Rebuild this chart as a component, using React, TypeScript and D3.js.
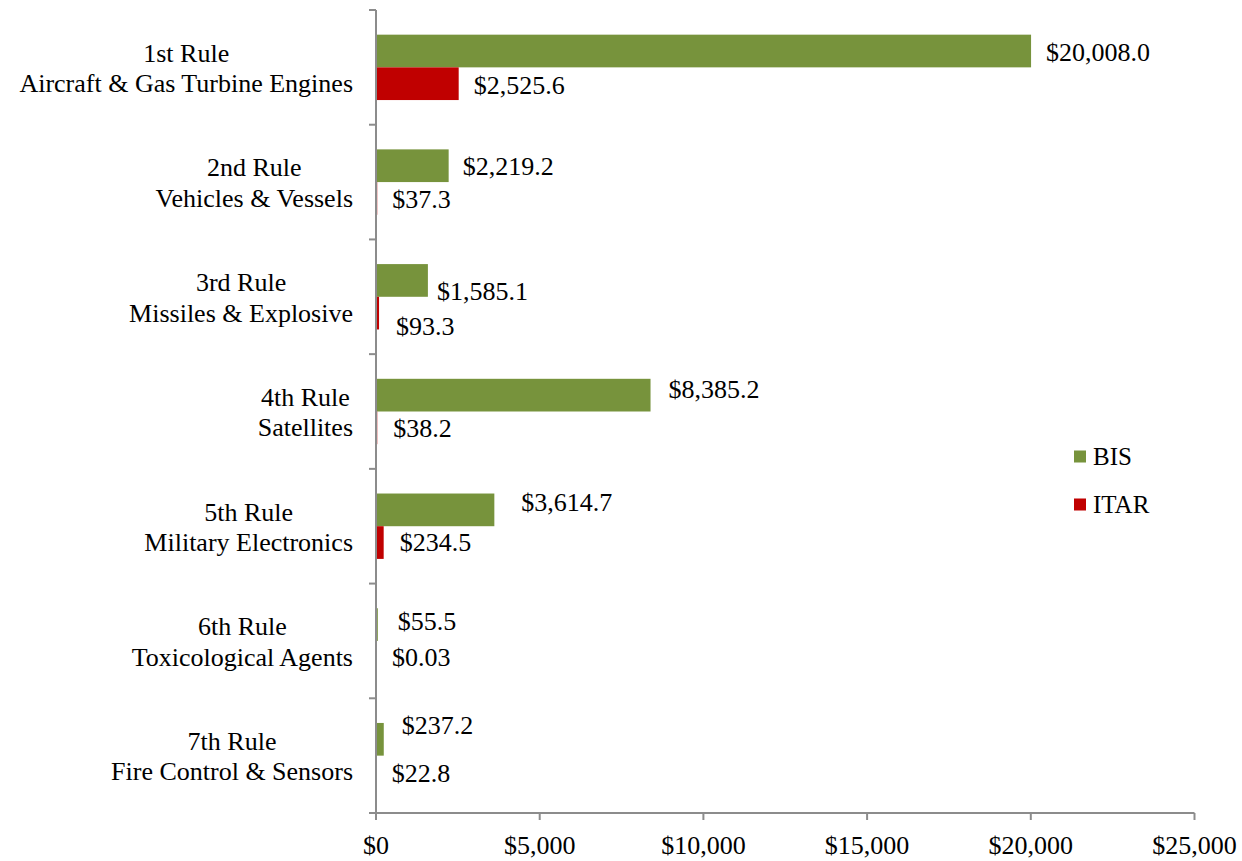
import React, { useEffect, useRef } from "react";
import * as d3 from "d3";

const ruleNames = ["1st Rule", "2nd Rule", "3rd Rule", "4th Rule", "5th Rule", "6th Rule", "7th Rule"];
const ruleSubjects = [
  "Aircraft & Gas Turbine Engines",
  "Vehicles & Vessels",
  "Missiles & Explosive",
  "Satellites",
  "Military Electronics",
  "Toxicological Agents",
  "Fire Control & Sensors",
];
const seriesNames = ["BIS", "ITAR"];
const bisValues = [20008.0, 2219.2, 1585.1, 8385.2, 3614.7, 55.5, 237.2];
const itarValues = [2525.6, 37.3, 93.3, 38.2, 234.5, 0.03, 22.8];
const xTicks = [0, 5000, 10000, 15000, 20000, 25000];

// label nudges (px) mimicking the hand-placed labels of the original
const bisLabelNudge = [[15, 1], [14, 0], [9, 11], [18, -6], [27, -8], [20, -3], [18, -14]];
const itarLabelNudge = [[15, 1], [15, 1], [17, 13], [16, 0], [16, 0], [16, 0], [15, 1]];

const W = 1242;
const H = 861;
const COLORS = ["#77933C", "#C00000"];
const AXIS = "#8C8C8C";
const FONT = "Liberation Serif, Tinos, Times New Roman, DejaVu Serif, serif";

export default function App() {
  const ref = useRef<SVGSVGElement>(null);

  useEffect(() => {
    const svg = d3.select(ref.current);
    svg.selectAll("*").remove();

    const x0 = 376;
    const top = 10;
    const bottom = 813;
    const x = d3.scaleLinear().domain([0, 25000]).range([x0, 1194.5]);
    const y = d3.scaleBand<number>().domain(d3.range(ruleNames.length)).range([top, bottom]).padding(0);
    const inner = d3.scaleBand<number>().domain([0, 1]).range([0.215, 0.785]).padding(0);

    const fmt = (v: number) => "$" + (v < 1 ? d3.format(".2f")(v) : d3.format(",.1f")(v));
    const series = [bisValues, itarValues];
    const nudges = [bisLabelNudge, itarLabelNudge];

    const txt = (sel: any, size = 26) =>
      sel.style("font-family", FONT).style("font-size", size + "px").attr("fill", "#000");

    // bars
    series.forEach((vals, s) => {
      svg
        .append("g")
        .selectAll("rect")
        .data(vals)
        .join("rect")
        .attr("x", x(0))
        .attr("y", (_, i) => y(i)! + inner(s)! * y.bandwidth())
        .attr("width", (d) => Math.max(0, x(d) - x(0)))
        .attr("height", inner.bandwidth() * y.bandwidth())
        .attr("fill", COLORS[s]);
    });

    // value labels
    series.forEach((vals, s) => {
      txt(
        svg
          .append("g")
          .selectAll("text")
          .data(vals)
          .join("text")
          .attr("x", (d, i) => x(d) + nudges[s][i][0])
          .attr("y", (_, i) => y(i)! + (inner(s)! + inner.bandwidth() / 2) * y.bandwidth() + nudges[s][i][1])
          .attr("dy", "0.34em")
          .text((d) => fmt(d))
      );
    });

    // y axis line + ticks
    const ax = svg.append("g").attr("stroke", AXIS).attr("stroke-width", 2);
    ax.append("line").attr("x1", x0).attr("x2", x0).attr("y1", top).attr("y2", bottom);
    d3.range(ruleNames.length + 1).forEach((i) => {
      const yy = top + i * y.step();
      ax.append("line").attr("x1", x0 - 7).attr("x2", x0).attr("y1", yy).attr("y2", yy);
    });
    // x axis line + ticks
    ax.append("line").attr("x1", x0 - 7).attr("x2", x(25000)).attr("y1", bottom).attr("y2", bottom);
    xTicks.forEach((t) => {
      ax.append("line").attr("x1", x(t)).attr("x2", x(t)).attr("y1", bottom).attr("y2", bottom + 7);
    });

    txt(
      svg
        .append("g")
        .selectAll("text")
        .data(xTicks)
        .join("text")
        .attr("x", (d) => x(d))
        .attr("y", bottom + 32)
        .attr("dy", "0.34em")
        .attr("text-anchor", "middle")
        .text((d) => "$" + d3.format(",")(d))
    );

    // category labels (two centred lines, block right-aligned)
    ruleNames.forEach((name, i) => {
      const cy = y(i)! + y.bandwidth() / 2;
      const g = svg.append("g");
      const t1 = txt(
        g.append("text").attr("x", 0).attr("y", cy - 14.5).attr("dy", "0.34em").attr("text-anchor", "middle").text(name)
      );
      const t2 = txt(
        g
          .append("text")
          .attr("x", 0)
          .attr("y", cy + 16)
          .attr("dy", "0.34em")
          .attr("text-anchor", "middle")
          .text(ruleSubjects[i])
      );
      const w = Math.max(
        (t1.node() as SVGTextElement).getComputedTextLength(),
        (t2.node() as SVGTextElement).getComputedTextLength()
      );
      g.attr("transform", `translate(${353 - w / 2},0)`);
    });

    // legend
    const lg = svg.append("g");
    seriesNames.forEach((n, s) => {
      const ly = 456.5 + s * 48;
      lg.append("rect").attr("x", 1074).attr("y", ly - 6).attr("width", 12).attr("height", 12).attr("fill", COLORS[s]);
      txt(lg.append("text").attr("x", 1093).attr("y", ly).attr("dy", "0.34em").text(n), 25);
    });
  }, []);

  return (
    <svg
      ref={ref}
      width={W}
      height={H}
      style={{ position: "absolute", left: 0, top: 0, background: "#fff" }}
    />
  );
}
